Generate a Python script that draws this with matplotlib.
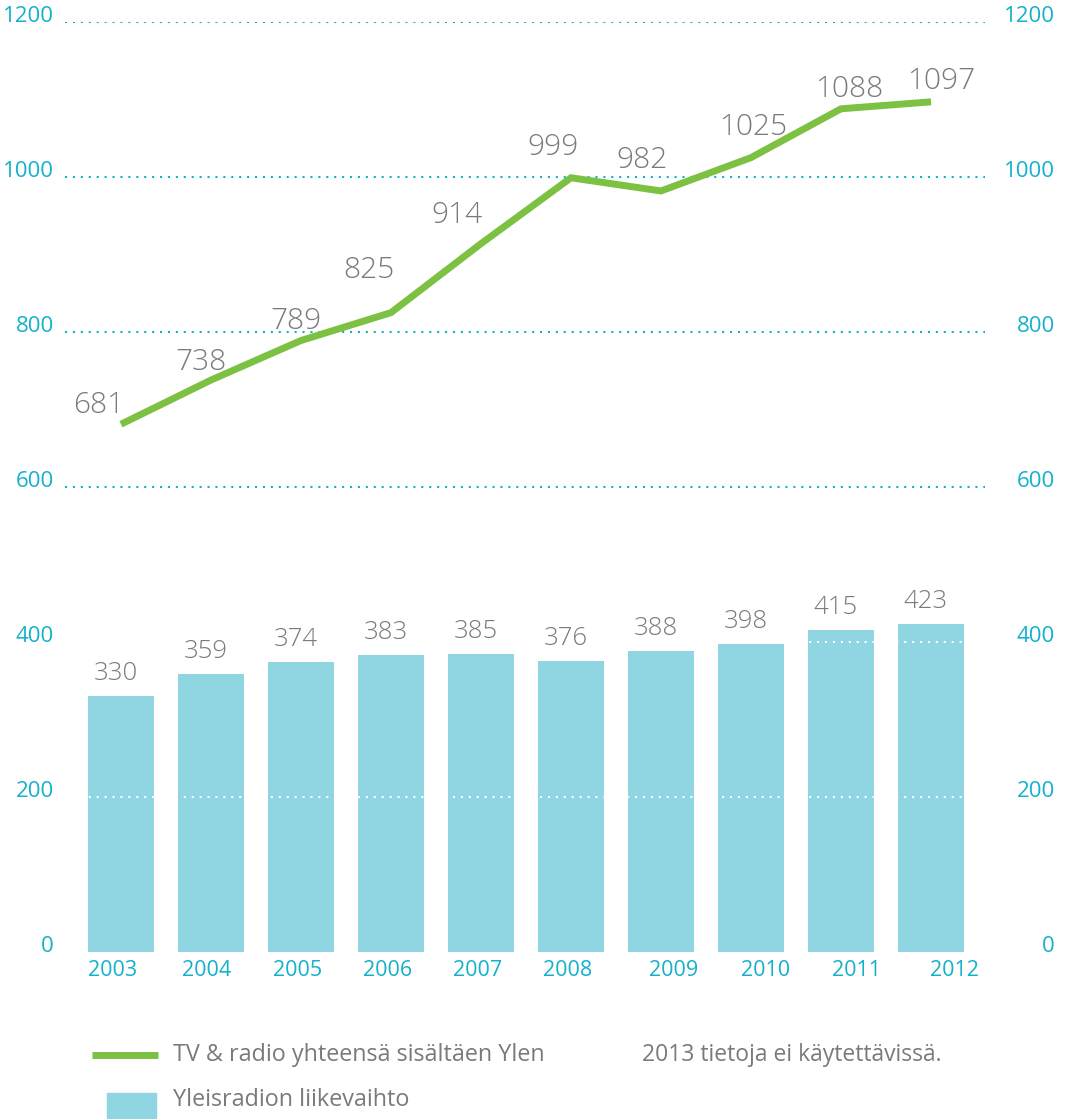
import matplotlib
matplotlib.use("Agg")
import matplotlib.pyplot as plt
from matplotlib.lines import Line2D
from matplotlib.patches import Rectangle
from matplotlib.transforms import ScaledTranslation, blended_transform_factory

# ------------------------------
# data
# ------------------------------
years = ["2003", "2004", "2005", "2006", "2007", "2008", "2009", "2010", "2011", "2012"]
tv_radio_total = [681, 738, 789, 825, 914, 999, 982, 1025, 1088, 1097]
yle_turnover = [330, 359, 374, 383, 385, 376, 388, 398, 415, 423]
y_ticks = [0, 200, 400, 600, 800, 1000, 1200]

GREEN = "#7dc142"
BAR = "#8fd5e2"
TEAL = "#14b1cb"
GRAY = "#7a7a7c"

plt.rcParams['font.family'] = ['Open Sans', 'DejaVu Sans']

fig = plt.figure(figsize=(10.65, 11.19), dpi=100)
ax = fig.add_axes([65 / 1065, (1119 - 952) / 1119, 920 / 1065, 930 / 1119])

x = list(range(len(years)))
ax.bar(x, yle_turnover, width=0.733, color=BAR, zorder=1)
ax.plot(x, tv_radio_total, color=GREEN, lw=5, solid_capstyle='butt',
        solid_joinstyle='miter', zorder=3)

# gridlines: teal above the bars, white inside the bars
for v in y_ticks[1:]:
    col = TEAL if v >= 600 else "white"
    ax.axhline(v, color=col, lw=1.5, linestyle=(0, (1, 2.8)), zorder=2)

ax.set_xlim(-0.622, 9.6)
ax.set_ylim(0, 1200)
for s in ax.spines.values():
    s.set_visible(False)

ax.set_yticks(y_ticks)
ax.tick_params(axis='y', length=0, labelsize=16, labelcolor=TEAL, left=False, pad=8)
ax.tick_params(axis='x', length=0, labelsize=15.5, labelcolor=TEAL, pad=6)
ax.set_xticks(x, years)

up = ScaledTranslation(0, 8 / 100, fig.dpi_scale_trans)
for lab in ax.get_yticklabels():
    lab.set_transform(lab.get_transform() + up)

# right-hand axis labels, right aligned near the figure edge
right_tr = blended_transform_factory(ax.transAxes, ax.transData) + up
for v in y_ticks:
    ax.text(1 + 70 / 920, v, str(v), transform=right_tr, ha='right', va='center_baseline',
            fontsize=16, color=TEAL)

# year labels sit slightly off the bar centres in the original
year_shift = [-8, -4, -3, -3, -3, -3, 13, 15, 16, 23]
for lab, dx in zip(ax.get_xticklabels(), year_shift):
    lab.set_transform(lab.get_transform() + ScaledTranslation(dx / 100, 0, fig.dpi_scale_trans))

# value labels for the line
line_off = [(-22, 4), (-10, 3), (-5, 5), (-22, 28), (-24, 14),
            (-18, 16), (-19, 16), (2, 16), (8, 5), (10, 6)]
for xi, v, (dx, dy) in zip(x, tv_radio_total, line_off):
    ax.annotate(str(v), (xi, v), xytext=(dx * 0.72, dy * 0.72), textcoords='offset points',
                ha='center', va='bottom', fontsize=21.5, color=GRAY, fontweight='light')

# value labels for the bars
for xi, v in zip(x, yle_turnover):
    ax.annotate(str(v), (xi, v), xytext=(-5 * 0.72, 10 * 0.72), textcoords='offset points',
                ha='center', va='bottom', fontsize=18.5, color=GRAY, fontweight='light')

# legend drawn by hand to follow the original layout
fig.add_artist(Line2D([92 / 1065, 158 / 1065], [1 - 1055 / 1119] * 2,
                      color=GREEN, lw=5, solid_capstyle='butt'))
fig.add_artist(Rectangle((107 / 1065, 0), 49 / 1065, 26 / 1119,
                         color=BAR, transform=fig.transFigure))
fig.text(173 / 1065, 1 - 1055 / 1119, "TV & radio yhteensä sisältäen Ylen",
         fontsize=16.8, color=GRAY, va='center')
fig.text(173 / 1065, 1 - 1100 / 1119, "Yleisradion liikevaihto",
         fontsize=16.8, color=GRAY, va='center')
fig.text(642 / 1065, 1 - 1055 / 1119, "2013 tietoja ei käytettävissä.",
         fontsize=16.5, color=GRAY, va='center')

plt.savefig("out.png", dpi=100)
plt.close()
